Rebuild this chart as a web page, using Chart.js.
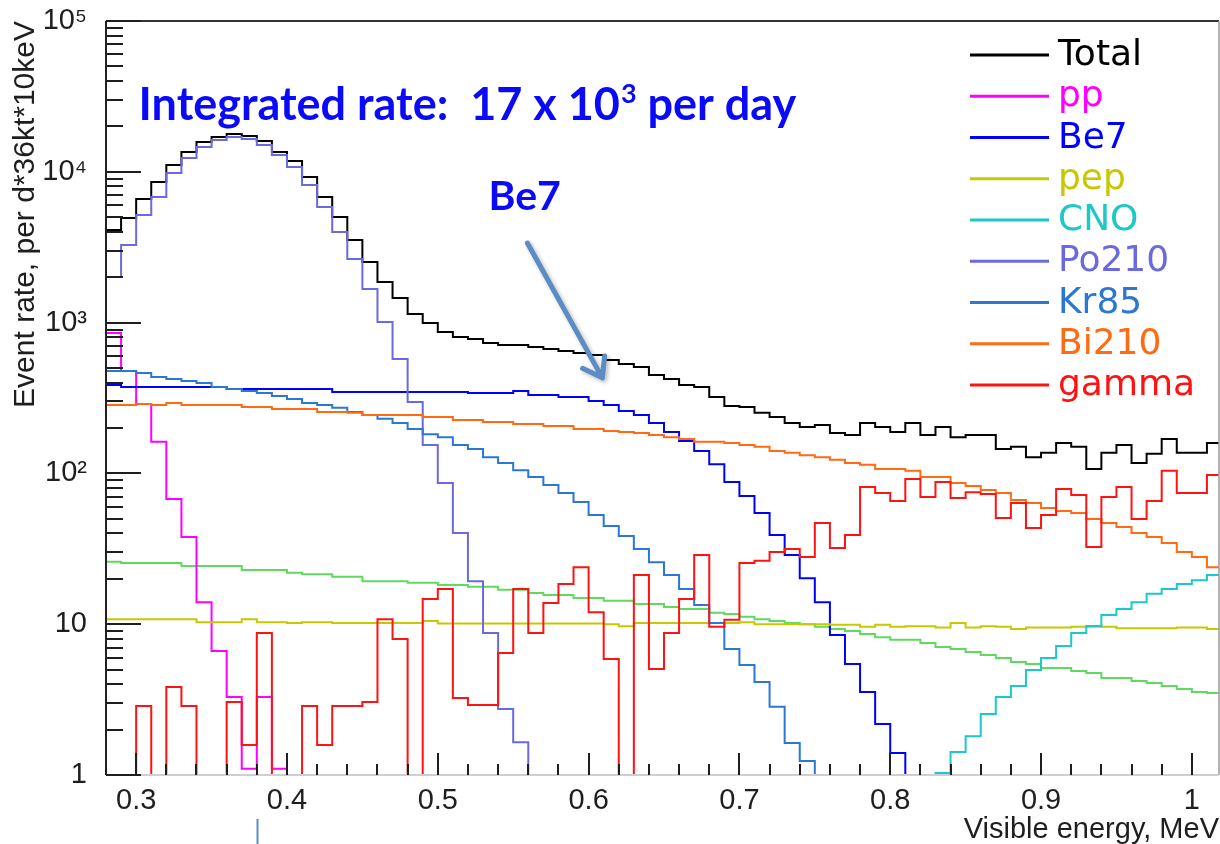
<!DOCTYPE html>
<html>
<head>
<meta charset="utf-8">
<title>Solar neutrino spectra</title>
<script src="https://cdn.jsdelivr.net/npm/chart.js@4.4.1/dist/chart.umd.min.js"></script>
<style>
  html, body { margin: 0; padding: 0; background: #ffffff; overflow: hidden; }
  #wrap { width: 1220px; height: 844px; }
</style>
</head>
<body>
<div id="wrap"><canvas id="c" width="1220" height="844"></canvas></div>
<script>
// Spectra are histogrammed in 10 keV bins, the first one starting at 0.28 MeV.
const binLow = 0.28;
const binWidth = 0.01;
const xMax = 1.018;

// Event rate per bin (per day, 36 kt), one entry per bin. 0 = empty / below scale.
const total = [4110, 4940, 6600, 8550, 11090, 13530, 15780, 17030, 17830, 17300,
  16000, 13530, 11800, 9240, 6810, 5010, 3530, 2520, 1860, 1455,
  1140, 994, 866, 802, 778, 732, 710, 710, 689, 668,
  648, 629, 610, 565, 532, 508, 450, 423, 386, 374,
  321, 280, 276, 252, 237, 216, 203, 209, 185, 180,
  216, 203, 188, 216, 180, 203, 174, 180, 180, 145,
  150, 128, 137, 159, 150, 107, 137, 154, 117, 135,
  169, 137, 137, 159];

const pp = [853, 478, 289, 162, 67.6, 37.9, 14.0, 6.64, 3.29, 1.10,
  3.29, 1.10, 0, 0, 0, 0, 0, 0, 0, 0,
  0, 0, 0, 0, 0, 0, 0, 0, 0, 0,
  0, 0, 0, 0, 0, 0, 0, 0, 0, 0,
  0, 0, 0, 0, 0, 0, 0, 0, 0, 0,
  0, 0, 0, 0, 0, 0, 0, 0, 0, 0,
  0, 0, 0, 0, 0, 0, 0, 0, 0, 0,
  0, 0, 0, 0];

const be7 = [386, 374, 374, 374, 374, 374, 374, 374, 363, 363,
  363, 363, 363, 363, 363, 347, 347, 347, 347, 347,
  347, 347, 347, 347, 341, 341, 341, 352, 331, 331,
  321, 321, 302, 284, 259, 244, 216, 188, 164, 141,
  115, 87.7, 70.8, 54.6, 39.0, 28.8, 20.2, 14.0, 8.48, 5.45,
  3.55, 2.18, 1.40, 0, 0, 0, 0, 0, 0, 0,
  0, 0, 0, 0, 0, 0, 0, 0, 0, 0,
  0, 0, 0, 0];

const pep = [10.8, 10.8, 10.8, 10.8, 10.8, 10.8, 10.3, 10.3, 10.3, 10.8,
  10.3, 10.3, 10.2, 10.3, 10.3, 10.2, 10.2, 10.2, 10.2, 10.2,
  10.2, 10.5, 10.1, 10.1, 10.1, 10.1, 10.1, 10.1, 10.1, 10.1,
  10.1, 10.1, 10.1, 10.0, 9.7, 10.2, 10.2, 10.2, 10.2, 10.2,
  10.2, 10.2, 10.3, 10.0, 10.0, 10.0, 10.0, 10.0, 9.9, 9.9,
  9.6, 9.9, 9.6, 9.7, 9.7, 9.5, 10.2, 9.5, 9.7, 9.6,
  9.3, 9.5, 9.5, 9.5, 9.6, 9.6, 9.6, 9.4, 9.4, 9.4,
  9.4, 9.5, 9.5, 9.3];

const cno = [0, 0, 0, 0, 0, 0, 0, 0, 0, 0,
  0, 0, 0, 0, 0, 0, 0, 0, 0, 0,
  0, 0, 0, 0, 0, 0, 0, 0, 0, 0,
  0, 0, 0, 0, 0, 0, 0, 0, 0, 0,
  0, 0, 0, 0, 0, 0, 0, 0, 0, 0,
  0, 0, 0, 0, 0, 1.03, 1.42, 1.81, 2.54, 3.29,
  3.89, 4.97, 5.97, 7.17, 8.74, 9.73, 11.5, 12.6, 14.0, 15.9,
  17.1, 18.5, 19.6, 21.2];

const po210 = [2006, 3270, 5170, 6810, 9820, 12360, 14600, 16250, 17030, 16500,
  15060, 12920, 10760, 8170, 5850, 3990, 2640, 1670, 1010, 574,
  298, 154, 86.3, 40.3, 19.3, 8.75, 2.74, 1.65, 0, 0,
  0, 0, 0, 0, 0, 0, 0, 0, 0, 0,
  0, 0, 0, 0, 0, 0, 0, 0, 0, 0,
  0, 0, 0, 0, 0, 0, 0, 0, 0, 0,
  0, 0, 0, 0, 0, 0, 0, 0, 0, 0,
  0, 0, 0, 0];

const kr85 = [478, 478, 463, 436, 423, 410, 398, 374, 363, 352,
  341, 326, 311, 293, 284, 272, 255, 244, 230, 216,
  197, 182, 174, 154, 145, 128, 117, 105, 94.6, 83.8,
  74.1, 64.6, 53.0, 44.8, 38.5, 31.5, 25.8, 21.2, 17.1, 13.4,
  10.2, 6.85, 5.36, 4.14, 2.83, 1.63, 1.24, 0, 0, 0,
  0, 0, 0, 0, 0, 0, 0, 0, 0, 0,
  0, 0, 0, 0, 0, 0, 0, 0, 0, 0,
  0, 0, 0, 0];

const bi210 = [284, 284, 289, 284, 293, 284, 284, 284, 284, 276,
  276, 267, 267, 267, 255, 255, 252, 244, 244, 244,
  244, 237, 237, 226, 226, 219, 219, 213, 213, 206,
  206, 197, 197, 191, 188, 185, 180, 174, 169, 162,
  162, 159, 154, 150, 141, 137, 132, 128, 123, 117,
  114, 107, 107, 104, 94.6, 94.6, 86.3, 82.4, 77.6, 74.1,
  66.6, 63.6, 59.0, 56.3, 54.6, 49.9, 46.9, 44.1, 40.3, 37.9,
  34.5, 30.1, 27.9, 23.9];

const gamma = [0, 0, 2.87, 0, 3.83, 2.87, 0, 0, 3.05, 1.58,
  8.74, 0, 0, 2.87, 1.58, 2.87, 2.87, 3.05, 10.8, 7.98,
  0, 14.7, 17.1, 3.24, 2.91, 2.91, 6.44, 17.1, 8.74, 13.8,
  18.5, 23.9, 12.0, 5.88, 0, 21.2, 5.05, 8.74, 14.7, 28.8,
  9.6, 10.7, 25.5, 26.3, 30.1, 31.5, 27.9, 46.9, 32.0, 39.0,
  81.3, 74.1, 65.6, 91.8, 69.7, 87.7, 68.7, 75, 73, 50.6,
  63.6, 43.5, 53.0, 78.8, 71.9, 32.5, 69.7, 81.3, 49.9, 65.6,
  104, 74.1, 74.1, 97.6];

// Component drawn without a legend entry (green curve).
const extra = [25.9, 25.5, 25.5, 25.5, 25.5, 24.3, 24.3, 24.3, 24.3, 22.9,
  22.9, 22.9, 21.9, 21.4, 21.4, 20.6, 20.6, 19.3, 19.3, 19.3,
  18.8, 18.8, 18.2, 18.2, 17.7, 17.7, 16.9, 16.9, 16.1, 15.6,
  15.6, 14.9, 14.9, 14.3, 14.3, 13.6, 13.6, 13.0, 12.6, 12.6,
  11.9, 11.7, 11.2, 10.8, 10.5, 10.2, 10.0, 9.6, 9.3, 9.0,
  8.6, 8.2, 7.9, 7.9, 7.5, 7.06, 6.85, 6.54, 6.25, 5.97,
  5.61, 5.45, 5.12, 5.12, 4.89, 4.75, 4.40, 4.40, 4.20, 4.08,
  3.89, 3.72, 3.55, 3.50];

const xTickValues = [0.3, 0.4, 0.5, 0.6, 0.7, 0.8, 0.9, 1.0];
const xTickLabels = ['0.3', '0.4', '0.5', '0.6', '0.7', '0.8', '0.9', '1'];
const yTickValues = [1, 10, 100, 1000, 10000, 100000];
const yTickLabels = ['1', '10', '10\u00B2', '10\u00B3', '10\u2074', '10\u2075'];

// Annotations, placed in data coordinates (energy in MeV, rate).
const rateNote = { x: 0.3016, y: 22000, head: 'Integrated rate:  17 x 10', sup: '3', tail: ' per day' };
const be7Note = { x: 0.5336, y: 5580, text: 'Be7' };
const be7Arrow = { from: [0.5594, 3370], to: [0.6091, 430] };
const stubX = 0.3798;

// Empty bins are pushed far below the axis so the outline drops to the frame.
const FLOOR = 1e-2;
function histogram(values) {
  const pts = values.map((v, i) => ({ x: binLow + i * binWidth, y: v > 0 ? v : FLOOR }));
  pts.push({ x: binLow + values.length * binWidth, y: pts[pts.length - 1].y });
  return pts;
}

const series = [
  { label: 'Total', values: total, color: '#000000' },
  { label: 'pp', values: pp, color: '#ff00ff' },
  { label: 'Be7', values: be7, color: '#0000ff' },
  { label: 'pep', values: pep, color: '#c8c800' },
  { label: 'CNO', values: cno, color: '#1cc8c8' },
  { label: 'Po210', values: po210, color: '#6a6ade' },
  { label: 'Kr85', values: kr85, color: '#2a78d4' },
  { label: 'Bi210', values: bi210, color: '#ff6a12' },
  { label: 'gamma', values: gamma, color: '#ff1212' }
];

const datasets = series.map((s, i) => ({
  label: s.label,
  data: histogram(s.values),
  borderColor: s.color,
  backgroundColor: s.color,
  borderWidth: 2,
  stepped: true,
  pointRadius: 0,
  fill: false,
  order: series.length - i
}));
datasets.push({
  label: '',
  data: histogram(extra),
  borderColor: '#5fda5f',
  backgroundColor: '#5fda5f',
  borderWidth: 2,
  stepped: true,
  pointRadius: 0,
  fill: false,
  order: series.length + 1
});

// Frame and ROOT-style inward tick marks.
const frameTicks = {
  id: 'frameTicks',
  afterDatasetsDraw(chart) {
    const { ctx, chartArea: a, scales: { x, y } } = chart;
    ctx.save();
    ctx.lineCap = 'butt';
    // frame
    ctx.strokeStyle = '#333333'; ctx.lineWidth = 2;
    ctx.beginPath(); ctx.moveTo(a.left, a.top); ctx.lineTo(a.right, a.top); ctx.stroke();
    ctx.strokeStyle = '#9a9a9a'; ctx.lineWidth = 1.5;
    ctx.beginPath(); ctx.moveTo(a.right, a.top); ctx.lineTo(a.right, a.bottom); ctx.stroke();
    ctx.strokeStyle = '#cfcfcf'; ctx.lineWidth = 2;
    ctx.beginPath(); ctx.moveTo(a.left, a.bottom); ctx.lineTo(a.right, a.bottom); ctx.stroke();
    ctx.strokeStyle = '#222222'; ctx.lineWidth = 2;
    ctx.beginPath(); ctx.moveTo(a.left, a.top); ctx.lineTo(a.left, a.bottom); ctx.stroke();

    // y ticks: decades long, 2..9 short
    ctx.strokeStyle = '#1e1e1e'; ctx.lineWidth = 2;
    ctx.beginPath();
    for (let d = yTickValues[0]; d < yTickValues[yTickValues.length - 1]; d *= 10) {
      for (let m = 1; m <= 9; m++) {
        const py = Math.round(y.getPixelForValue(m * d));
        const len = m === 1 ? 35 : 17;
        ctx.moveTo(a.left, py); ctx.lineTo(a.left + len, py);
      }
    }
    const topPy = y.getPixelForValue(yTickValues[yTickValues.length - 1]);
    ctx.moveTo(a.left, topPy); ctx.lineTo(a.left + 35, topPy);
    ctx.stroke();

    // x ticks: labelled values long, every 0.02 MeV short
    ctx.beginPath();
    xTickValues.forEach(v => {
      for (let k = 0; k < 5; k++) {
        const val = v + k * 0.02;
        if (val > x.max) continue;
        const px = Math.round(x.getPixelForValue(val));
        const len = k === 0 ? 22 : 11;
        ctx.moveTo(px, a.bottom); ctx.lineTo(px, a.bottom - len);
      }
    });
    ctx.stroke();
    ctx.restore();
  }
};

// Legend in the upper right corner, text coloured like its line.
const cornerLegend = {
  id: 'cornerLegend',
  afterDraw(chart) {
    const { ctx, chartArea: a } = chart;
    ctx.save();
    ctx.font = '36px "DejaVu Sans"';
    ctx.textBaseline = 'alphabetic';
    ctx.textAlign = 'left';
    let row = 0;
    chart.data.datasets.forEach(ds => {
      if (!ds.label) return;
      const base = a.top + 44 + row * 41.25;
      const lineY = base - 10;
      ctx.strokeStyle = ds.borderColor;
      ctx.lineWidth = 3;
      ctx.beginPath();
      ctx.moveTo(a.right - 249, lineY);
      ctx.lineTo(a.right - 170, lineY);
      ctx.stroke();
      ctx.fillStyle = ds.borderColor;
      ctx.fillText(ds.label, a.right - 161, base);
      row++;
    });
    ctx.restore();
  }
};

// Text notes and the arrow pointing at the Be7 shoulder.
const notes = {
  id: 'notes',
  afterDraw(chart) {
    const { ctx, chartArea: a, scales: { x, y } } = chart;
    ctx.save();
    ctx.fillStyle = '#0a0af8';
    ctx.textBaseline = 'alphabetic';
    ctx.textAlign = 'left';

    let px = x.getPixelForValue(rateNote.x);
    const py = y.getPixelForValue(rateNote.y);
    ctx.font = 'bold 45px Lato';
    ctx.fillText(rateNote.head, px, py);
    px += ctx.measureText(rateNote.head).width + 1;
    ctx.font = 'bold 27px Lato';
    ctx.fillText(rateNote.sup, px, py - 17);
    px += ctx.measureText(rateNote.sup).width;
    ctx.font = 'bold 45px Lato';
    ctx.fillText(rateNote.tail, px, py);

    ctx.font = 'bold 41px Lato';
    ctx.fillText(be7Note.text, x.getPixelForValue(be7Note.x), y.getPixelForValue(be7Note.y));

    const x0 = x.getPixelForValue(be7Arrow.from[0]), y0 = y.getPixelForValue(be7Arrow.from[1]);
    const x1 = x.getPixelForValue(be7Arrow.to[0]), y1 = y.getPixelForValue(be7Arrow.to[1]);
    const ang = Math.atan2(y1 - y0, x1 - x0);
    const wing = 22, spread = 35 * Math.PI / 180;
    ctx.strokeStyle = '#5b8cc6';
    ctx.lineWidth = 5;
    ctx.lineCap = 'round';
    ctx.lineJoin = 'round';
    ctx.shadowColor = 'rgba(0,0,0,0.28)';
    ctx.shadowBlur = 4;
    ctx.shadowOffsetX = 2;
    ctx.shadowOffsetY = 2;
    ctx.beginPath();
    ctx.moveTo(x0, y0);
    ctx.lineTo(x1, y1);
    ctx.moveTo(x1 + wing * Math.cos(ang + Math.PI - spread), y1 + wing * Math.sin(ang + Math.PI - spread));
    ctx.lineTo(x1, y1);
    ctx.lineTo(x1 + wing * Math.cos(ang + Math.PI + spread), y1 + wing * Math.sin(ang + Math.PI + spread));
    ctx.stroke();

    // short marker under the axis
    ctx.shadowColor = 'transparent';
    ctx.lineWidth = 2;
    ctx.lineCap = 'butt';
    const sx = Math.round(x.getPixelForValue(stubX)) + 0.5;
    ctx.beginPath();
    ctx.moveTo(sx, a.bottom + 44);
    ctx.lineTo(sx, chart.height);
    ctx.stroke();
    ctx.restore();
  }
};

Chart.defaults.font.family = '"Liberation Sans", Arial, sans-serif';
Chart.defaults.color = '#1e1e1e';

new Chart(document.getElementById('c'), {
  type: 'line',
  data: { datasets },
  options: {
    responsive: false,
    animation: false,
    devicePixelRatio: 1,
    layout: { padding: { top: 21, right: 1, bottom: 0, left: 0 } },
    plugins: { legend: { display: false }, tooltip: { enabled: false } },
    elements: { point: { radius: 0 }, line: { tension: 0 } },
    scales: {
      x: {
        type: 'linear',
        min: binLow,
        max: xMax,
        afterFit: s => { s.height = 69; s.paddingLeft = 0; s.paddingRight = 0; },
        afterBuildTicks: s => { s.ticks = xTickValues.map(v => ({ value: v })); },
        ticks: {
          callback: v => xTickLabels[xTickValues.indexOf(v)],
          padding: 1,
          maxRotation: 0,
          autoSkip: false,
          font: { size: 29 }
        },
        grid: { display: false },
        border: { display: false },
        title: {
          display: true,
          text: 'Visible energy, MeV',
          align: 'end',
          font: { size: 29 },
          padding: { top: 0, bottom: -3 }
        }
      },
      y: {
        type: 'logarithmic',
        min: 1,
        max: 100000,
        afterFit: s => { s.width = 106; s.paddingTop = 0; s.paddingBottom = 0; },
        afterBuildTicks: s => { s.ticks = yTickValues.map(v => ({ value: v })); },
        ticks: {
          callback: v => yTickLabels[yTickValues.indexOf(v)],
          padding: 11,
          autoSkip: false,
          font: { size: 29 }
        },
        grid: { display: false },
        border: { display: false },
        title: {
          display: true,
          text: 'Event rate, per d*36kt*10keV',
          align: 'end',
          font: { size: 30 },
          padding: { top: 8, bottom: 0 }
        }
      }
    }
  },
  plugins: [frameTicks, cornerLegend, notes]
});
</script>
</body>
</html>
